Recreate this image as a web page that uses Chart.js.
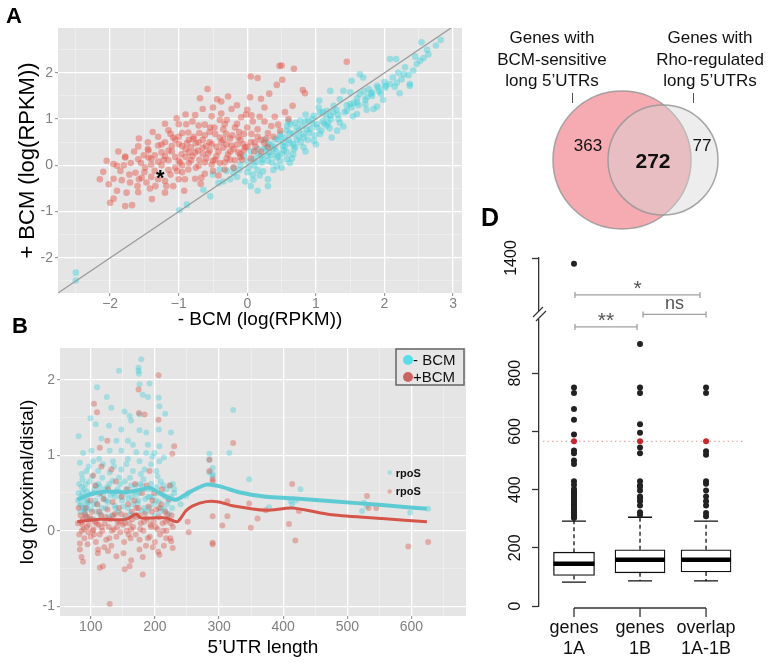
<!DOCTYPE html>
<html><head><meta charset="utf-8">
<script src="https://cdn.jsdelivr.net/npm/chart.js@4.4.1/dist/chart.umd.min.js"></script>
<style>
html,body{margin:0;padding:0;background:#fff;width:771px;height:666px;overflow:hidden;}
body{position:relative;font-family:'Liberation Sans',Arial,Helvetica,sans-serif;}
canvas{position:absolute;}
.lbl{position:absolute;font-weight:bold;color:#000;line-height:1.15;}
.vt{position:absolute;text-align:center;font-size:17px;line-height:21.5px;color:#111;}
.tk{position:absolute;width:1.3px;height:10px;background:#555;}
</style></head><body>
<canvas id="cA" width="470" height="336" style="left:0;top:0"></canvas>
<canvas id="cB" width="470" height="336" style="left:0;top:330px"></canvas>
<canvas id="cV" width="301" height="232" style="left:470px;top:0"></canvas>
<canvas id="cD" width="301" height="436" style="left:470px;top:230px"></canvas>
<div class="lbl" style="left:6px;top:3px;font-size:22px">A</div>
<div class="lbl" style="left:12px;top:313px;font-size:22px">B</div>
<div class="lbl" style="left:481px;top:203px;font-size:25px">D</div>
<div class="vt" style="left:472px;top:27px;width:160px">Genes with<br>BCM-sensitive<br>long 5’UTRs</div>
<div class="vt" style="left:650px;top:27px;width:120px">Genes with<br>Rho-regulated<br>long 5’UTRs</div>
<div class="tk" style="left:571.5px;top:93px"></div>
<div class="tk" style="left:692.5px;top:93px"></div>
<script>
// ---------------- DATA ----------------
// Panel A: +BCM vs -BCM log(RPKM)
const aTicksX = [-2, -1, 0, 1, 2, 3];
const aTicksY = [-2, -1, 0, 1, 2];
const aRed = [[0.50,2.16],[0.47,2.15],[1.45,2.24],[0.68,2.09],[0.05,1.92],[0.15,1.89],[0.51,1.85],[0.43,1.74],[0.81,1.63],[0.84,1.56],[-0.58,1.65],[-0.69,1.45],[-0.44,1.43],[-0.38,1.38],[-0.28,1.49],[0.04,1.47],[0.32,1.55],[0.66,1.29],[0.20,1.44],[-0.23,1.22],[-0.65,1.22],[-0.76,1.09],[-0.38,1.12],[-0.09,1.04],[0.06,1.08],[-1.03,1.02],[-0.52,1.06],[-0.89,0.89],[-1.00,0.89],[-0.71,0.86],[-0.54,0.82],[-0.33,0.89],[-0.18,0.82],[0.00,0.82],[-1.15,0.76],[-1.08,0.60],[-0.86,0.71],[-0.79,0.57],[-0.62,0.65],[-0.47,0.68],[-0.31,0.68],[-0.13,0.60],[0.06,0.68],[-1.20,0.50],[-1.30,0.43],[-1.00,0.46],[-0.82,0.39],[-0.71,0.50],[-0.52,0.46],[-0.38,0.50],[-0.23,0.43],[-0.06,0.46],[-1.59,0.41],[-1.44,0.32],[-1.51,0.22],[-1.78,0.17],[-1.40,0.14],[-1.25,0.28],[-1.10,0.30],[-0.96,0.24],[-0.76,0.28],[-0.57,0.26],[-0.42,0.30],[-0.28,0.24],[-0.13,0.28],[-0.03,0.39],[0.11,0.50],[-1.15,0.11],[-0.98,0.06],[-0.82,0.11],[-0.62,0.06],[-0.47,0.12],[-0.33,0.06],[-0.18,0.11],[-1.95,0.03],[-1.78,0.19],[-1.90,-0.01],[-1.59,0.13],[-1.44,0.17],[-2.10,-0.14],[-2.02,-0.41],[-1.95,-0.29],[-1.83,-0.32],[-1.71,-0.37],[-1.59,-0.58],[-1.76,-0.59],[-1.95,-0.72],[-2.00,-0.81],[-1.78,-0.88],[-1.68,-0.86],[-1.39,-0.73],[-1.20,-0.59],[-1.08,-0.45],[-1.47,-0.37],[-1.34,-0.45],[-1.20,-0.34],[-0.91,-0.30],[-0.76,-0.29],[-0.67,-0.27],[-0.86,-0.09],[-1.05,-0.05],[-0.71,-0.01],[-0.52,0.02],[-0.33,-0.09],[-1.49,-0.05],[-1.63,-0.16],[-1.54,-0.27],[-1.20,0.20],[-1.05,0.18],[-0.90,0.35],[-0.65,0.38],[-0.45,0.20],[-0.20,0.35],[-0.10,0.18],[0.20,0.55],[0.30,0.70],[0.35,0.85],[0.45,0.88],[0.25,0.95],[0.15,0.78],[-0.05,0.68],[-0.60,0.15],[-0.75,-0.05],[-0.95,-0.15],[-1.12,-0.20],[-1.35,-0.12],[-1.70,0.05],[-1.85,-0.12],[-0.40,0.60],[-0.85,0.55],[-1.30,0.62],[-1.45,0.50],[-1.10,0.42],[-0.55,0.72],[-0.25,0.58],[0.10,0.30],[-0.15,0.90],[-0.40,0.98],[0.55,1.15],[0.60,1.00],[0.40,1.05],[-0.30,0.15],[-0.50,-0.12],[-1.00,-0.30],[-1.25,0.00],[-1.40,-0.25],[-0.62,-0.18],[-0.20,-0.05],[0.05,0.15],[0.20,0.30],[-0.90,1.10],[-1.20,0.90],[-0.95,0.70],[-0.70,0.70],[-0.35,0.78],[0.00,1.20],[0.25,1.25],[-0.15,1.30],[-1.60,-0.45],[-2.15,-0.30],[-1.90,-0.55],[-0.10,0.55],[0.30,0.40],[-0.80,0.20],[-1.00,0.10],[-0.55,0.32],[-0.35,0.38],[-0.65,0.55],[-1.55,0.05],[-1.45,0.35],[-1.35,0.22],[-1.25,0.45],[-1.15,0.32],[-1.05,0.55],[-0.95,0.42],[-0.85,0.28],[-0.75,0.48],[-0.65,0.25],[-0.55,0.50],[-0.45,0.40],[-0.35,0.55],[-0.25,0.30],[-0.15,0.45],[-0.05,0.32],[0.05,0.50],[0.15,0.62],[0.25,0.48],[-1.50,-0.15],[-1.30,-0.30],[-1.15,-0.10],[-0.95,0.00],[-0.85,0.05],[-0.70,0.12],[-0.50,0.10],[-0.40,0.05],[-0.25,0.12],[-0.10,0.25],[0.00,0.40],[-1.65,0.30],[-1.80,0.00],[-1.72,-0.20],[-1.58,-0.30],[-1.42,-0.50],[-1.30,0.08],[-1.18,-0.45],[-1.02,-0.12],[-0.90,0.18],[-0.78,0.62],[-0.62,0.88],[-0.48,0.82],[-0.30,0.98],[-0.12,0.72],[0.08,0.95],[0.18,1.05],[-0.02,1.10],[-0.50,1.25],[-0.80,0.95],[-1.12,0.68],[-1.38,0.72],[-1.58,0.58],[-1.88,0.30],[-2.05,0.10],[-0.68,-0.40],[-0.92,-0.55],[-0.42,-0.22],[-0.22,0.65],[0.12,0.40],[0.28,0.58],[0.38,0.62],[0.48,0.75],[-0.60,0.42],[-0.72,0.32],[-0.88,0.48],[-1.00,0.62],[-1.22,0.12],[-1.40,0.02],[-0.30,0.45],[-0.08,0.12]];
const aCyan = [[2.54,2.66],[2.82,2.71],[2.75,2.59],[2.64,2.40],[2.57,2.32],[2.52,2.26],[2.47,2.19],[2.08,2.30],[2.17,2.30],[2.30,2.12],[2.42,2.05],[2.28,1.97],[2.25,1.86],[2.18,1.79],[2.37,1.76],[1.89,1.72],[1.91,1.68],[2.01,1.68],[2.08,1.76],[1.69,1.90],[1.64,1.97],[1.52,1.83],[1.77,1.65],[1.82,1.58],[1.74,1.47],[1.64,1.54],[1.50,1.58],[1.40,1.61],[1.21,1.61],[1.35,1.43],[1.50,1.32],[1.60,1.36],[1.72,1.32],[1.84,1.22],[1.26,1.29],[1.16,1.18],[1.45,1.18],[1.60,1.11],[1.04,1.25],[1.06,1.14],[1.21,1.07],[1.33,1.00],[0.97,1.07],[0.89,0.97],[1.01,0.89],[1.16,0.86],[1.31,0.75],[0.77,0.97],[0.72,0.82],[0.87,0.78],[1.06,0.68],[1.23,0.60],[0.63,0.89],[0.58,0.75],[0.67,0.68],[0.82,0.60],[0.97,0.53],[0.48,0.68],[0.41,0.57],[0.53,0.50],[0.67,0.46],[0.82,0.39],[0.31,0.46],[0.24,0.35],[0.38,0.35],[0.53,0.32],[0.67,0.24],[0.16,0.24],[0.29,0.21],[0.43,0.17],[0.58,0.14],[0.09,0.14],[0.21,0.06],[0.36,0.06],[-0.50,-0.20],[-0.40,-0.09],[-0.20,-0.17],[-0.03,-0.35],[0.09,-0.31],[0.23,-0.13],[0.43,-0.02],[0.62,0.05],[-0.64,-0.53],[-0.54,-0.67],[-0.88,-0.85],[-0.99,-0.97],[0.00,0.09],[-0.10,0.01],[-0.20,-0.06],[-0.30,-0.12],[-2.50,-2.49],[-2.50,-2.32],[1.40,0.84],[1.54,1.06],[1.74,1.20],[1.98,1.42],[2.22,1.56],[2.37,1.72],[1.89,1.27],[0.10,0.00],[0.30,0.10],[0.50,0.25],[0.70,0.40],[0.90,0.70],[1.10,0.95],[0.80,0.85],[0.60,0.55],[0.40,0.40],[0.20,0.20],[0.00,-0.15],[-0.15,-0.25],[0.15,-0.10],[0.35,0.22],[0.55,0.40],[0.75,0.62],[0.95,0.90],[1.15,1.05],[1.30,1.20],[1.45,1.30],[1.60,1.45],[1.80,1.55],[2.00,1.80],[2.20,2.00],[0.05,-0.45],[0.30,-0.30],[0.50,-0.05],[0.65,0.15],[0.85,0.30],[1.00,0.45],[1.20,0.80],[0.45,0.55],[0.25,0.55],[0.05,0.30],[-0.05,0.20],[0.60,0.95],[0.85,1.10],[1.05,1.40],[0.30,-0.45],[0.15,-0.55],[-0.35,-0.35],[0.02,-0.05],[0.12,0.08],[0.22,0.12],[0.32,0.28],[0.42,0.30],[0.52,0.42],[0.62,0.48],[0.72,0.55],[0.82,0.68],[0.92,0.78],[1.02,0.82],[1.12,0.90],[1.22,1.00],[1.32,1.10],[1.42,1.15],[1.52,1.25],[1.62,1.30],[1.72,1.42],[1.82,1.50],[1.92,1.60],[2.02,1.72],[2.12,1.90],[0.18,-0.22],[0.38,-0.10],[0.48,0.10],[0.58,0.28],[0.68,0.35],[0.78,0.50],[0.88,0.55],[0.98,0.65],[1.08,0.75],[1.18,0.92],[0.28,0.38],[0.48,0.62],[0.58,0.85],[0.70,0.92],[0.75,0.75],[0.95,1.00],[1.10,1.15],[1.25,1.15],[-0.25,-0.30],[-0.42,-0.38],[-0.12,-0.10],[0.08,-0.20],[0.62,0.70],[0.45,0.20],[0.35,0.45],[0.15,0.35],[0.55,0.60],[0.85,0.95],[1.35,0.92],[1.55,1.35],[1.70,1.60],[1.95,1.55],[2.15,1.70],[2.35,1.95],[2.45,2.35],[2.62,2.50]];
const aDiagonal = [[-3, -3], [3.2, 3.2]];
const aStarGene = [-1.27, -0.16];

// Panel B: log(proximal/distal) vs 5'UTR length
const bTicksX = [100, 200, 300, 400, 500, 600];
const bTicksY = [-1, 0, 1, 2];
const bCyan = [[178.7,2.27],[174.5,2.16],[174.5,2.12],[175,2.08],[144,2.12],[176,1.94],[191.6,1.95],[109.8,1.9],[181,1.8],[189,1.77],[206,1.76],[207,1.65],[125,1.77],[132,1.63],[152.8,1.58],[160.6,1.52],[163,1.46],[176,1.54],[216,1.55],[99.5,1.49],[107.8,1.41],[128.4,1.39],[147.6,1.34],[176,1.33],[186.5,1.3],[206,1.34],[225,1.3],[322,1.6],[81,1.25],[116.6,1.22],[140,1.19],[158,1.19],[165.7,1.14],[189,1.14],[207,1.12],[101,1.06],[88,1.03],[129.5,1.06],[147.6,1.06],[171,1.04],[186.5,1.03],[199,1.03],[214,0.97],[285,1.02],[316,1.03],[83,0.9],[103.6,0.92],[119,0.88],[134.6,0.92],[155.4,0.88],[176,0.92],[194,0.88],[207,0.92],[93.3,0.79],[111.4,0.79],[129.5,0.77],[147.6,0.81],[165.7,0.79],[183.8,0.81],[202,0.79],[285,0.77],[290,0.72],[284.8,0.94],[290,0.83],[290,0.75],[347,0.68],[411.6,0.39],[414,0.35],[427,0.55],[523,0.26],[526,0.37],[598,0.24],[626,0.29],[248.6,0.46],[378,0.31],[252,0.5],[230,0.55],[240,0.35],[420,0.4],[530,0.33],[82,0.62],[85,0.45],[88,0.3],[90,0.55],[92,0.2],[95,0.4],[98,0.65],[100,0.28],[103,0.5],[105,0.15],[108,0.6],[110,0.35],[113,0.48],[115,0.22],[118,0.7],[120,0.42],[123,0.3],[126,0.58],[128,0.18],[131,0.47],[134,0.66],[137,0.33],[140,0.52],[143,0.25],[146,0.62],[149,0.4],[152,0.15],[155,0.55],[158,0.3],[161,0.7],[164,0.45],[167,0.2],[170,0.6],[173,0.36],[176,0.5],[179,0.26],[182,0.68],[185,0.42],[188,0.55],[191,0.3],[194,0.62],[197,0.45],[200,0.2],[203,0.58],[206,0.38],[209,0.65],[212,0.48],[215,0.28],[218,0.55],[221,0.4],[224,0.6],[227,0.3],[230,0.5],[84,0.25],[87,0.68],[93,0.35],[97,0.15],[102,0.72],[107,0.4],[112,0.62],[117,0.3],[122,0.55],[127,0.38],[133,0.2],[138,0.45],[144,0.7],[150,0.32],[156,0.48],[162,0.22],[168,0.52],[174,0.4],[180,0.6],[186,0.25],[192,0.45],[198,0.35],[204,0.72],[210,0.3],[216,0.45],[222,0.22],[80,0.4],[81,0.5],[83,0.33],[86,0.58],[89,0.42],[91,0.28],[94,0.52],[96,0.37],[85,0.35],[87,0.5],[90,0.25],[92,0.62],[95,0.3],[99,0.48],[104,0.35],[106,0.55],[109,0.25],[114,0.58],[119,0.48],[124,0.4],[129,0.62],[135,0.5],[139,0.3],[142,0.55],[147,0.45],[153,0.65],[159,0.42],[163,0.6],[166,0.35],[171,0.48],[177,0.62],[183,0.3],[189,0.45],[195,0.55],[201,0.4],[205,0.5],[208,0.25],[213,0.6],[219,0.35],[225,0.45],[228,0.62],[86,0.75],[97,0.85],[113,0.95],[136,0.85],[158,0.95],[178,0.75],[196,0.98]];
const bRed = [[205.6,2.06],[174.5,1.87],[105,1.68],[109.8,1.57],[175,1.56],[183.8,1.54],[205.6,1.47],[125.8,1.19],[230,1.12],[322,1.16],[114,1.1],[227,1.02],[285,0.94],[116.6,0.85],[132,0.81],[191.6,0.79],[290,0.65],[103.6,0.73],[129.5,-0.97],[181,-0.58],[152.8,-0.51],[160.6,-0.47],[119,-0.47],[114,-0.49],[85.5,-0.35],[88,-0.41],[83,-0.17],[126.9,-0.27],[111.4,-0.25],[140,-0.34],[163,-0.39],[176,-0.25],[207,-0.32],[196.7,-0.22],[217.6,-0.1],[227.8,-0.23],[225.3,-0.14],[290,-0.16],[305,0.07],[252.6,-0.02],[251,0.12],[285,0.79],[290,0.19],[290,-0.18],[313,0.19],[313,0.39],[347,0.36],[349.5,0.04],[360,0.16],[414,0.62],[409,0.09],[419,-0.13],[424.5,0.26],[530.6,0.46],[533,0.3],[545,0.3],[595,-0.21],[626,-0.15],[372.8,0.27],[290,0.68],[80,0.1],[82,-0.05],[84,0.2],[86,0.0],[88,0.15],[90,-0.1],[92,0.3],[94,0.05],[96,-0.02],[98,0.18],[100,-0.08],[102,0.25],[104,0.02],[106,0.12],[108,-0.15],[110,0.35],[112,0.08],[114,-0.05],[116,0.2],[118,0.0],[120,0.42],[122,0.1],[124,-0.12],[126,0.28],[128,0.05],[130,0.15],[132,-0.2],[134,0.38],[136,0.02],[138,0.22],[140,-0.08],[142,0.12],[144,0.3],[146,-0.02],[148,0.45],[150,0.08],[152,-0.15],[154,0.2],[156,0.0],[158,0.35],[160,0.1],[162,-0.1],[164,0.25],[166,0.05],[168,0.4],[170,-0.05],[172,0.18],[174,0.3],[176,-0.12],[178,0.1],[180,0.5],[182,0.0],[184,0.22],[186,-0.2],[188,0.15],[190,0.32],[192,-0.08],[194,0.05],[196,0.4],[198,0.12],[200,-0.15],[202,0.28],[204,0.02],[206,0.18],[208,-0.05],[210,0.35],[212,0.1],[214,-0.2],[216,0.25],[218,0.0],[220,0.15],[222,0.42],[224,-0.1],[226,0.2],[228,0.05],[81,0.3],[83,-0.25],[87,0.08],[91,0.22],[95,-0.18],[99,0.4],[103,0.0],[107,0.6],[111,-0.3],[115,0.5],[121,-0.22],[127,0.55],[133,0.0],[139,0.65],[145,0.12],[151,-0.3],[157,0.55],[163,0.02],[169,0.62],[175,0.2],[181,-0.35],[187,0.6],[193,0.08],[199,0.5],[205,-0.28],[211,0.55],[217,0.12],[223,0.6],[85,0.12],[89,0.02],[93,0.18],[97,0.08],[101,0.15],[105,-0.05],[109,0.1],[113,0.25],[117,0.05],[123,0.18],[129,-0.1],[135,0.2],[141,0.05],[147,0.22],[153,0.1],[159,-0.05],[165,0.15],[171,0.3],[177,0.02],[183,0.12],[189,-0.1],[195,0.25],[201,0.05],[207,0.3],[213,0.0],[219,0.22],[225,0.1]];
const bTrendCyan = [[79,0.41],[98,0.48],[124,0.52],[155,0.51],[181,0.55],[191,0.57],[207,0.50],[218,0.45],[233,0.41],[254,0.51],[280,0.61],[300,0.59],[331,0.51],[373,0.45],[414,0.43],[476,0.39],[554,0.34],[624,0.29]];
const bTrendRed = [[79,0.12],[114,0.15],[155,0.15],[171,0.22],[178,0.17],[201,0.17],[217,0.17],[235,0.12],[248,0.26],[259,0.33],[280,0.385],[300,0.38],[321,0.33],[373,0.27],[414,0.30],[476,0.21],[554,0.16],[624,0.12]];
const bRpoS = [[566, 0.77], [566, 0.52]];
const bSeriesNames = ['- BCM', '+BCM'];

// Venn counts
const vennCounts = [363, 272, 77];

// Panel D: 5'UTR length boxplots
const boxCats = [['genes', '1A'], ['genes', '1B'], ['overlap', '1A-1B']];
const boxWhiskLow = [82, 86, 86];
const boxQ1 = [105, 114, 117];
const boxMedian = [145, 159, 159];
const boxQ3 = [185, 193, 193];
const boxWhiskHigh = [292, 305, 292];
const boxOut1A = [751,732,677,640,589,534,525,500,488,429,417,402,395,391,385,380,375,368,362,357,350,345,340,334,328,322,317,311,306,302];
const boxOut1B = [900,751,732,625,595,545,525,429,414,410,397,376,370,360,345,322,313];
const boxOutOv = [751,732,532,520,429,420,397,376,360,345,320,308];
const boxOutHigh1A = [1385];
const rpoSLength = 566;
const boxTicksLow = [0, 200, 400, 600, 800];
const boxTicksHigh = [1400];
const sigTests = [[1, 3, '*'], [2, 3, 'ns'], [1, 2, '**']];

// ---------------- SETUP ----------------
Chart.defaults.font.family = "'Liberation Sans', Arial, Helvetica, sans-serif";
Chart.defaults.animation = false;
Chart.defaults.events = [];
Chart.defaults.plugins.legend.display = false;
Chart.defaults.plugins.tooltip.enabled = false;

const pts = arr => arr.map(p => ({x: p[0], y: p[1]}));

const bgPlugin = {
  id: 'plotBg',
  beforeDraw(chart, args, opts) {
    if (!opts || !opts.color) return;
    const {ctx, chartArea: a} = chart;
    ctx.save(); ctx.fillStyle = opts.color;
    ctx.fillRect(a.left, a.top, a.right - a.left, a.bottom - a.top);
    ctx.restore();
  }
};

function withMinors(majors, lo, hi, half) {
  const s = new Set(majors);
  majors.forEach(m => { s.add(+(m - half).toFixed(6)); s.add(+(m + half).toFixed(6)); });
  return [...s].filter(v => v >= lo && v <= hi).sort((a, b) => a - b);
}
function ggScale(o) {
  const isMaj = v => o.majors.includes(v);
  return {
    type: 'linear', min: o.min, max: o.max,
    afterBuildTicks: s => { s.ticks = withMinors(o.majors, o.min, o.max, o.half).map(v => ({value: v})); },
    afterFit: s => { if (o.horizontal) s.height = o.size; else s.width = o.size; },
    border: {display: false},
    grid: {
      color: c => (c.tick && isMaj(c.tick.value)) ? '#ffffff' : 'rgba(255,255,255,0.55)',
      lineWidth: c => (c.tick && isMaj(c.tick.value)) ? 1.3 : 0.6,
      drawTicks: true, tickLength: 3, tickWidth: 1,
      tickColor: c => (c.tick && isMaj(c.tick.value)) ? '#8a8a8a' : 'rgba(0,0,0,0)'
    },
    ticks: {autoSkip: false, maxRotation: 0, padding: o.tickPad, color: '#808080', font: {size: 14},
      callback: v => isMaj(v) ? o.fmt(v) : ''},
    title: {display: true, text: o.title, color: '#000', font: {size: o.titleSize}, padding: o.titlePad}
  };
}

// ---------------- PANEL A ----------------
const starPlugin = {
  id: 'starA',
  afterDatasetsDraw(chart) {
    const {ctx, scales: {x, y}} = chart;
    const px = x.getPixelForValue(aStarGene[0]), py = y.getPixelForValue(aStarGene[1]);
    ctx.save(); ctx.fillStyle = '#000'; ctx.font = "bold 22px 'Liberation Sans', Arial";
    ctx.textAlign = 'center'; ctx.textBaseline = 'alphabetic';
    ctx.fillText('*', px, py + 12.5); ctx.restore();
  }
};
new Chart(document.getElementById('cA'), {
  type: 'scatter',
  data: {datasets: [
    {label: 'diag', type: 'line', data: pts(aDiagonal), borderColor: '#9c9c9c', borderWidth: 1.3, pointRadius: 0, order: 0},
    {label: '-BCM higher', data: pts(aCyan), backgroundColor: 'rgba(64,208,218,0.45)', borderWidth: 0, pointRadius: 3.3, order: 2},
    {label: '+BCM higher', data: pts(aRed), backgroundColor: 'rgba(228,82,72,0.45)', borderWidth: 0, pointRadius: 3.3, order: 1}
  ]},
  options: {
    responsive: false, layout: {padding: {top: 28, right: 8, left: 0, bottom: 0}},
    plugins: {plotBg: {color: '#E5E5E5'}},
    scales: {
      x: ggScale({min: -2.76, max: 3.13, majors: aTicksX, half: 0.5, horizontal: true, size: 43, tickPad: 0,
        fmt: v => v < 0 ? '\u2212' + Math.abs(v) : String(v), title: '- BCM (log(RPKM))', titleSize: 19, titlePad: {top: 0, bottom: 5}}),
      y: ggScale({min: -2.76, max: 2.97, majors: aTicksY, half: 0.5, horizontal: false, size: 58, tickPad: 2,
        fmt: v => String(v), title: '+ BCM (log(RPKM))', titleSize: 22, titlePad: {top: 15, bottom: 0}})
    }
  },
  plugins: [bgPlugin, starPlugin]
});

// ---------------- PANEL B ----------------
const bColors = {cyanPt: 'rgba(72,206,216,0.4)', redPt: 'rgba(214,84,74,0.4)', cyanLine: '#5ECBD4', redLine: '#D5554B',
  cyanKey: 'rgb(88,222,232)', redKey: 'rgb(204,98,98)'};
const legendB = {
  id: 'legendB',
  afterDraw(chart) {
    const {ctx, chartArea: a} = chart;
    const x0 = a.right - 70, y0 = a.top + 1, w = 68, h = 36;
    ctx.save();
    ctx.fillStyle = '#E6E6E6'; ctx.fillRect(x0, y0, w, h);
    ctx.strokeStyle = '#666'; ctx.lineWidth = 1.5; ctx.strokeRect(x0, y0, w, h);
    const keys = [bColors.cyanKey, bColors.redKey];
    bSeriesNames.forEach((name, i) => {
      const cy = y0 + 11 + i * 17;
      ctx.fillStyle = keys[i]; ctx.beginPath(); ctx.arc(x0 + 12, cy, 5, 0, Math.PI * 2); ctx.fill();
      ctx.fillStyle = '#111'; ctx.font = "15px 'Liberation Sans', Arial"; ctx.textAlign = 'left'; ctx.textBaseline = 'middle';
      ctx.fillText(name, x0 + 17, cy + 1);
    });
    const {x, y} = chart.scales;
    ctx.font = "bold 11px 'Liberation Sans', Arial"; ctx.fillStyle = '#111';
    bRpoS.forEach(p => { ctx.fillText('rpoS', x.getPixelForValue(p[0]) + 6, y.getPixelForValue(p[1]) + 1); });
    ctx.restore();
  }
};
new Chart(document.getElementById('cB'), {
  type: 'scatter',
  data: {datasets: [
    {label: 'trend -BCM', type: 'line', data: pts(bTrendCyan), borderColor: bColors.cyanLine, borderWidth: 4, pointRadius: 0, tension: 0.25, order: 1},
    {label: 'trend +BCM', type: 'line', data: pts(bTrendRed), borderColor: bColors.redLine, borderWidth: 3, pointRadius: 0, tension: 0.25, order: 0},
    {label: bSeriesNames[0], data: pts(bCyan), backgroundColor: bColors.cyanPt, borderWidth: 0, pointRadius: 3, order: 4},
    {label: bSeriesNames[1], data: pts(bRed), backgroundColor: bColors.redPt, borderWidth: 0, pointRadius: 3, order: 3},
    {label: 'rpoS', data: pts(bRpoS), backgroundColor: [bColors.cyanPt, bColors.redPt], borderWidth: 0, pointRadius: 2.2, order: 2}
  ]},
  options: {
    responsive: false, layout: {padding: {top: 18, right: 3, left: 0, bottom: 0}},
    plugins: {plotBg: {color: '#E5E5E5'}},
    scales: {
      x: ggScale({min: 52, max: 685, majors: bTicksX, half: 50, horizontal: true, size: 50, tickPad: 0,
        fmt: v => String(v), title: '5’UTR length', titleSize: 19, titlePad: {top: 0, bottom: 6.6}}),
      y: ggScale({min: -1.13, max: 2.42, majors: bTicksY, half: 0.5, horizontal: false, size: 60, tickPad: 2,
        fmt: v => String(v), title: 'log (proximal/distal)', titleSize: 19, titlePad: {top: 16.6, bottom: 0}})
    }
  },
  plugins: [bgPlugin, legendB]
});

// ---------------- VENN ----------------
const vennLayout = {circles: [{cx: 152, cy: 160, r: 69}, {cx: 193, cy: 160, r: 55}],
  labels: [{x: 118, y: 145, bold: false}, {x: 183, y: 161, bold: true}, {x: 232, y: 145, bold: false}]};
const vennText = {
  id: 'vennText',
  afterDatasetsDraw(chart) {
    const {ctx, scales: {x, y}} = chart;
    ctx.save(); ctx.fillStyle = '#111'; ctx.textAlign = 'center'; ctx.textBaseline = 'middle';
    vennCounts.forEach((n, i) => {
      const L = vennLayout.labels[i];
      ctx.font = (L.bold ? "bold 21px " : "17px ") + "'Liberation Sans', Arial";
      ctx.fillText(String(n), x.getPixelForValue(L.x), y.getPixelForValue(L.y) + 1);
    });
    ctx.restore();
  }
};
new Chart(document.getElementById('cV'), {
  type: 'scatter',
  data: {datasets: [
    {label: 'BCM-sensitive', data: [{x: vennLayout.circles[0].cx, y: vennLayout.circles[0].cy}], pointRadius: vennLayout.circles[0].r,
      backgroundColor: 'rgb(246,170,177)', borderColor: 'rgba(150,150,150,0.85)', borderWidth: 1.5, clip: false, order: 2},
    {label: 'Rho-regulated', data: [{x: vennLayout.circles[1].cx, y: vennLayout.circles[1].cy}], pointRadius: vennLayout.circles[1].r,
      backgroundColor: 'rgba(214,214,214,0.45)', borderColor: 'rgba(150,150,150,0.85)', borderWidth: 1.5, clip: false, order: 1}
  ]},
  options: {
    responsive: false, layout: {padding: 0, autoPadding: false},
    scales: {x: {display: false, min: 0, max: 301}, y: {display: false, min: 0, max: 232, reverse: true}}
  },
  plugins: [vennText]
});

// ---------------- PANEL D (boxplot) ----------------
const boxWidths = [41, 50, 50];
const boxDecor = {
  id: 'boxDecor',
  beforeDatasetsDraw(chart) {
    const {ctx, chartArea: a, scales: {x, yLow}} = chart;
    ctx.save();
    const yr = yLow.getPixelForValue(rpoSLength);
    ctx.strokeStyle = 'rgba(226,150,150,0.8)'; ctx.lineWidth = 1.2; ctx.setLineDash([1.5, 3]);
    ctx.beginPath(); ctx.moveTo(a.left + 4, yr); ctx.lineTo(a.right, yr); ctx.stroke();
    ctx.strokeStyle = '#111'; ctx.lineWidth = 1.3;
    boxCats.forEach((c, i) => {
      const px = x.getPixelForValue(i + 1);
      ctx.setLineDash([4, 3]);
      ctx.beginPath();
      ctx.moveTo(px, yLow.getPixelForValue(boxQ3[i])); ctx.lineTo(px, yLow.getPixelForValue(boxWhiskHigh[i]));
      ctx.moveTo(px, yLow.getPixelForValue(boxQ1[i])); ctx.lineTo(px, yLow.getPixelForValue(boxWhiskLow[i]));
      ctx.stroke();
      ctx.setLineDash([]);
      ctx.beginPath();
      [boxWhiskHigh[i], boxWhiskLow[i]].forEach(v => {
        const py = yLow.getPixelForValue(v); ctx.moveTo(px - 12, py); ctx.lineTo(px + 12, py);
      });
      ctx.stroke();
    });
    ctx.restore();
  },
  afterDatasetsDraw(chart) {
    const {ctx, chartArea: a, scales: {x, yLow}} = chart;
    ctx.save();
    ctx.strokeStyle = '#000'; ctx.lineWidth = 4.5;
    boxCats.forEach((c, i) => {
      const px = x.getPixelForValue(i + 1), py = yLow.getPixelForValue(boxMedian[i]);
      ctx.beginPath(); ctx.moveTo(px - boxWidths[i] / 2, py); ctx.lineTo(px + boxWidths[i] / 2, py); ctx.stroke();
    });
    const bracketY = [1069, 1002, 959];
    const inset = [[1, -6], [3, 0], [1, -3]];
    sigTests.forEach((t, k) => {
      const x1 = x.getPixelForValue(t[0]) + inset[k][0], x2 = x.getPixelForValue(t[1]) + inset[k][1];
      const py = yLow.getPixelForValue(bracketY[k]);
      ctx.strokeStyle = '#a0a0a0'; ctx.lineWidth = 1.3;
      ctx.beginPath(); ctx.moveTo(x1, py); ctx.lineTo(x2, py);
      ctx.moveTo(x1, py - 3); ctx.lineTo(x1, py + 3); ctx.moveTo(x2, py - 3); ctx.lineTo(x2, py + 3); ctx.stroke();
      ctx.fillStyle = '#555'; ctx.textAlign = 'center';
      const cx = (x1 + x2) / 2, cy = py - 9;
      if (t[2] === 'ns') {
        ctx.font = "18px 'Liberation Sans', Arial"; ctx.textBaseline = 'middle'; ctx.fillText('ns', cx, cy - 1);
      } else {
        ctx.font = "21px 'Liberation Sans', Arial"; ctx.textBaseline = 'alphabetic'; ctx.fillText(t[2], cx, cy + 9);
      }
    });
    ctx.strokeStyle = '#333'; ctx.lineWidth = 1.3;
    const yb = a.bottom + 2;
    ctx.beginPath(); ctx.moveTo(x.getPixelForValue(1), yb); ctx.lineTo(x.getPixelForValue(boxCats.length), yb);
    boxCats.forEach((c, i) => { const px = x.getPixelForValue(i + 1); ctx.moveTo(px, yb); ctx.lineTo(px, yb + 9); });
    ctx.stroke();
    ctx.restore();
  },
  afterDraw(chart) {
    const {ctx, chartArea: a, scales: {yLow}} = chart;
    const py = yLow.getPixelForValue(1000), ax = a.left;
    ctx.save();
    ctx.fillStyle = '#fff'; ctx.fillRect(ax - 3, py - 4, 6, 8);
    ctx.strokeStyle = '#333'; ctx.lineWidth = 1.2;
    ctx.beginPath();
    ctx.moveTo(ax - 6, py + 2); ctx.lineTo(ax + 4, py - 8);
    ctx.moveTo(ax - 3, py + 6); ctx.lineTo(ax + 7, py - 4);
    ctx.stroke();
    ctx.restore();
  }
};
const yBoxScale = (min, max, weight, ticksArr) => ({
  type: 'linear', position: 'left', stack: 'ybox', stackWeight: weight, min: min, max: max,
  afterBuildTicks: s => { s.ticks = ticksArr.map(v => ({value: v})); },
  afterFit: s => { s.width = 69; },
  border: {display: true, color: '#333', width: 1.3},
  grid: {drawOnChartArea: false, drawTicks: true, tickLength: 7, tickColor: '#333', tickWidth: 1.3},
  ticks: {minRotation: 90, maxRotation: 90, crossAlign: 'center', padding: 3, color: '#111', font: {size: 16}, autoSkip: false,
    callback: v => String(v)}
});
const outPts = [];
[boxOut1A, boxOut1B, boxOutOv].forEach((arr, i) => arr.forEach(v => outPts.push({x: i + 1, y: v})));
new Chart(document.getElementById('cD'), {
  type: 'bar',
  data: {datasets: [
    {label: 'box 1A', data: [{x: 1, y: [boxQ1[0], boxQ3[0]]}], yAxisID: 'yLow', backgroundColor: '#fff', borderColor: '#111',
      borderWidth: 1.3, borderSkipped: false, barThickness: boxWidths[0], grouped: false, order: 5},
    {label: 'box 1B/overlap', data: [{x: 2, y: [boxQ1[1], boxQ3[1]]}, {x: 3, y: [boxQ1[2], boxQ3[2]]}], yAxisID: 'yLow',
      backgroundColor: '#fff', borderColor: '#111', borderWidth: 1.3, borderSkipped: false, barThickness: boxWidths[1], grouped: false, order: 5},
    {label: 'outliers', type: 'scatter', data: outPts, yAxisID: 'yLow', backgroundColor: '#222', borderWidth: 0, pointRadius: 3, order: 2},
    {label: 'outliers high', type: 'scatter', data: boxOutHigh1A.map(v => ({x: 1, y: v})), yAxisID: 'yHigh', backgroundColor: '#222', borderWidth: 0, pointRadius: 3, order: 2},
    {label: 'rpoS', type: 'scatter', data: boxCats.map((c, i) => ({x: i + 1, y: rpoSLength})), yAxisID: 'yLow', backgroundColor: '#c8282d', borderWidth: 0, pointRadius: 3, order: 1}
  ]},
  options: {
    responsive: false, layout: {padding: {top: 28, right: 26, left: 0, bottom: 0}, autoPadding: false},
    scales: {
      yLow: yBoxScale(0, 1000, 291, boxTicksLow),
      yHigh: yBoxScale(1250, 1400, 57, boxTicksHigh),
      x: {type: 'linear', min: 0.47, max: 3.59, offset: false,
        afterBuildTicks: s => { s.ticks = boxCats.map((c, i) => ({value: i + 1})); },
        afterFit: s => { s.height = 60; },
        grid: {display: false, drawTicks: false, offset: false}, border: {display: false},
        ticks: {callback: v => boxCats[v - 1], padding: 11, color: '#111', font: {size: 18}, maxRotation: 0, autoSkip: false}}
    }
  },
  plugins: [boxDecor]
});
</script>
</body></html>
